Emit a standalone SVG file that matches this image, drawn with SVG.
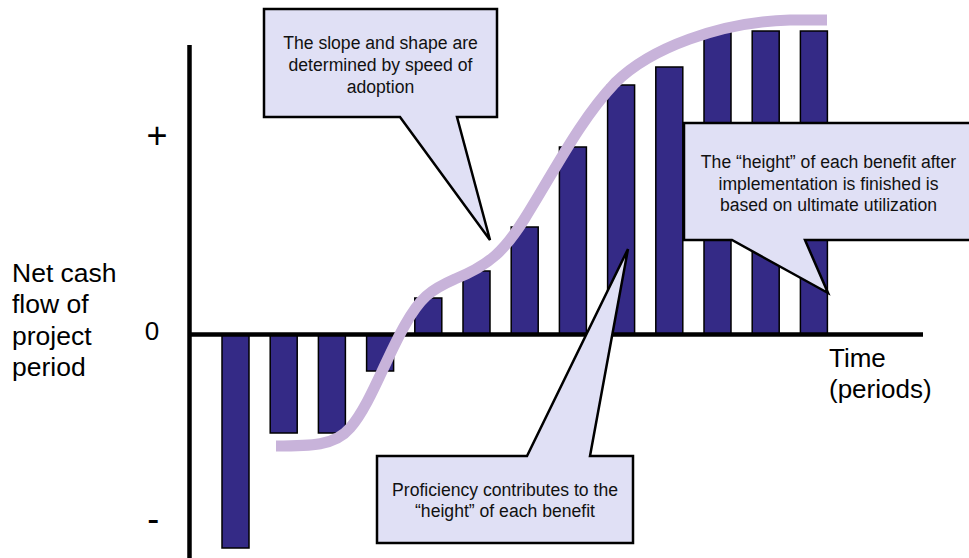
<svg xmlns="http://www.w3.org/2000/svg" width="969" height="558" viewBox="0 0 969 558">
<style>
.bar{fill:#342A86;stroke:#000;stroke-width:1.5}
.axis{stroke:#000;stroke-width:4.5;fill:none}
.call{fill:#E0E0F5;stroke:#000;stroke-width:2.5;stroke-linejoin:miter}
.ct{font-family:"Liberation Sans",Arial,sans-serif;font-size:17.6px;fill:#111;text-anchor:middle}
.lbl{font-family:"Liberation Sans",Arial,sans-serif;font-size:26px;fill:#000}
.sign{font-family:"Liberation Sans",Arial,sans-serif;font-size:36px;fill:#000;text-anchor:middle}
.curve{fill:none;stroke:#C8B3DA;stroke-width:11;stroke-linecap:butt}
</style>
<rect width="969" height="558" fill="#fff"/>
<g id="bars">
<rect class="bar" x="222" y="334" width="27" height="214"/>
<rect class="bar" x="270.2" y="334" width="27" height="99"/>
<rect class="bar" x="318.4" y="334" width="27" height="99"/>
<rect class="bar" x="366.6" y="334" width="27" height="37"/>
<rect class="bar" x="414.8" y="298" width="27" height="36"/>
<rect class="bar" x="463" y="271" width="27" height="63"/>
<rect class="bar" x="511.2" y="227" width="27" height="107"/>
<rect class="bar" x="559.4" y="147" width="27" height="187"/>
<rect class="bar" x="607.6" y="85" width="27" height="249"/>
<rect class="bar" x="655.8" y="67" width="27" height="267"/>
<rect class="bar" x="704" y="32" width="27" height="302"/>
<rect class="bar" x="752.2" y="31" width="27" height="303"/>
<rect class="bar" x="800.4" y="31" width="27" height="303"/>
</g>
<g id="axes">
<line class="axis" x1="189.5" y1="45" x2="189.5" y2="558"/>
<line class="axis" x1="189" y1="334.5" x2="923" y2="334.5"/>
</g>
<g id="labels">
<text class="sign" x="157" y="148.4">+</text>
<text class="lbl" x="152" y="340" text-anchor="middle">0</text>
<text class="sign" x="153.3" y="531">-</text>
<text class="lbl" style="font-size:26.5px" x="12"><tspan x="12" y="282">Net cash</tspan><tspan x="12" y="313.3">flow of</tspan><tspan x="12" y="344.6">project</tspan><tspan x="12" y="376">period</tspan></text>
<text class="lbl" x="829"><tspan x="829" y="367">Time</tspan><tspan x="829" y="398">(periods)</tspan></text>
</g>
<g id="connectors">
<path class="curve" d="M276,446 C310,446 335,446 350,428 C370,405 385,360 405,325 C420,298 430,290 455,279 C490,265 505,250 525,218 C555,170 580,120 615,83 C650,48 720,22 790,20 L827,20"/>
</g>
<g id="callout-slope">
<path class="call" d="M264,9 H497 V117 H457 L490,240 L400,117 H264 Z"/>
<text class="ct"><tspan x="380.5" y="49">The slope and shape are</tspan><tspan x="380.5" y="71">determined by speed of</tspan><tspan x="380.5" y="93">adoption</tspan></text>
</g>
<g id="callout-proficiency">
<path class="call" d="M377,456 H527 L628,249 L590,456 H633 V543 H377 Z"/>
<text class="ct"><tspan x="505" y="496">Proficiency contributes to the</tspan><tspan x="505" y="517">“height” of each benefit</tspan></text>
</g>
<g id="callout-height">
<path class="call" d="M684,123 H975 V240 H805 L828,293 L732,240 H684 Z"/>
<text class="ct"><tspan x="828.5" y="168">The “height” of each benefit after</tspan><tspan x="828.5" y="190">implementation is finished is</tspan><tspan x="828.5" y="211">based on ultimate utilization</tspan></text>
</g>
</svg>
